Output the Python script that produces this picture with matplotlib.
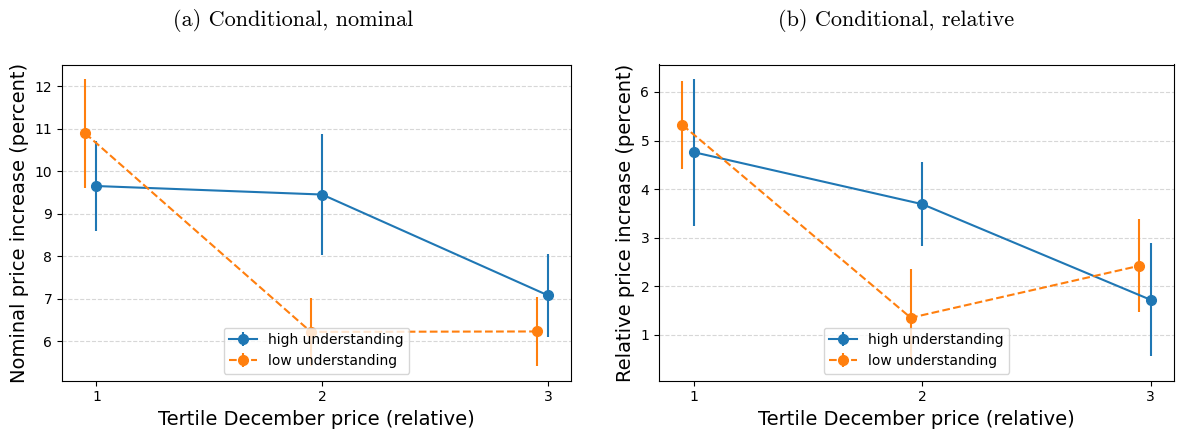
import numpy as np
import matplotlib
matplotlib.use("Agg")
import matplotlib.pyplot as plt

# tertiles and estimates
tertiles = np.array([1, 2, 3])
offset = 0.05  # low-understanding points are shifted left a little

nom_high = [9.65, 9.45, 7.08]
nom_high_err = [1.05, 1.42, 0.97]
nom_low = [10.89, 6.22, 6.23]
nom_low_err = [1.28, 0.80, 0.82]

rel_high = [4.76, 3.69, 1.72]
rel_high_err = [1.51, 0.86, 1.16]
rel_low = [5.32, 1.35, 2.42]
rel_low_err = [0.91, 1.00, 0.96]

titles = ["(a) Conditional, nominal", "(b) Conditional, relative"]
ylabels = ["Nominal price increase (percent)", "Relative price increase (percent)"]
xlabel = "Tertile December price (relative)"

W, H = 1180, 432
fig = plt.figure(figsize=(W / 100, H / 100), dpi=100)

def px_axes(x0, x1, y0, y1):
    return fig.add_axes([x0 / W, 1 - y1 / H, (x1 - x0) / W, (y1 - y0) / H])

axes = [px_axes(62, 571, 64.5, 380.7), px_axes(659, 1174, 64.5, 380.7)]
data = [(nom_high, nom_high_err, nom_low, nom_low_err),
        (rel_high, rel_high_err, rel_low, rel_low_err)]

for ax, (hi, hi_e, lo, lo_e), yl in zip(axes, data, ylabels):
    ax.errorbar(tertiles, hi, yerr=hi_e, fmt='-o', color='tab:blue',
                label='high understanding', lw=1.5, ms=7)
    ax.errorbar(tertiles - offset, lo, yerr=lo_e, fmt='--o', color='tab:orange',
                label='low understanding', lw=1.5, ms=7)
    ax.set_xticks(tertiles)
    ax.set_xlabel(xlabel, fontsize=14)
    ax.set_ylabel(yl, fontsize=14)
    ax.grid(axis='y', linestyle='--', alpha=0.5)
    ax.legend(loc='lower center')

fig.text(293 / W, 1 - 21 / H, titles[0], family='cmr10', fontsize=16,
         ha='center', va='center')
fig.text(896 / W, 1 - 21 / H, titles[1], family='cmr10', fontsize=16,
         ha='center', va='center')

fig.savefig("out.png", dpi=100)
